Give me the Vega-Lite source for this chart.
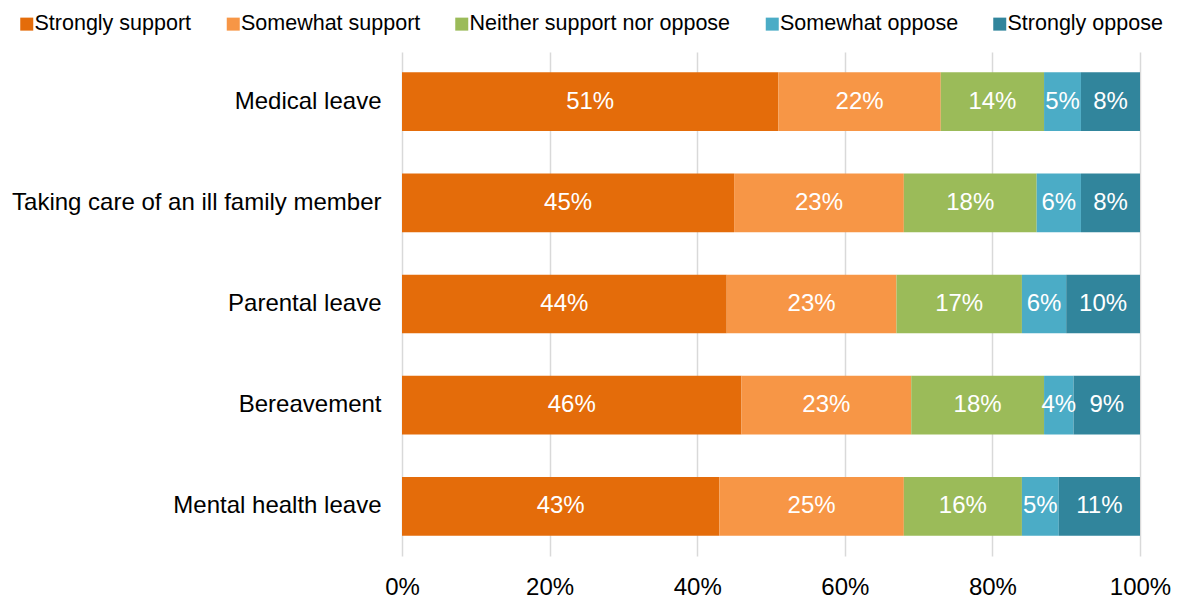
{
  "$schema": "https://vega.github.io/schema/vega-lite/v6.json",
  "width": 738,
  "height": 504,
  "autosize": {"type": "none"},
  "padding": {"left": 402, "top": 52, "right": 41, "bottom": 42},
  "background": "white",
  "config": {"view": {"stroke": null}, "font": "Liberation Sans"},
  "data": {
    "values": [
      {"item": "Medical leave", "resp": "Strongly support", "rank": 1, "pct": 0.51},
      {"item": "Medical leave", "resp": "Somewhat support", "rank": 2, "pct": 0.22},
      {"item": "Medical leave", "resp": "Neither support nor oppose", "rank": 3, "pct": 0.14},
      {"item": "Medical leave", "resp": "Somewhat oppose", "rank": 4, "pct": 0.05},
      {"item": "Medical leave", "resp": "Strongly oppose", "rank": 5, "pct": 0.08},
      {"item": "Taking care of an ill family member", "resp": "Strongly support", "rank": 1, "pct": 0.45},
      {"item": "Taking care of an ill family member", "resp": "Somewhat support", "rank": 2, "pct": 0.23},
      {"item": "Taking care of an ill family member", "resp": "Neither support nor oppose", "rank": 3, "pct": 0.18},
      {"item": "Taking care of an ill family member", "resp": "Somewhat oppose", "rank": 4, "pct": 0.06},
      {"item": "Taking care of an ill family member", "resp": "Strongly oppose", "rank": 5, "pct": 0.08},
      {"item": "Parental leave", "resp": "Strongly support", "rank": 1, "pct": 0.44},
      {"item": "Parental leave", "resp": "Somewhat support", "rank": 2, "pct": 0.23},
      {"item": "Parental leave", "resp": "Neither support nor oppose", "rank": 3, "pct": 0.17},
      {"item": "Parental leave", "resp": "Somewhat oppose", "rank": 4, "pct": 0.06},
      {"item": "Parental leave", "resp": "Strongly oppose", "rank": 5, "pct": 0.10},
      {"item": "Bereavement", "resp": "Strongly support", "rank": 1, "pct": 0.46},
      {"item": "Bereavement", "resp": "Somewhat support", "rank": 2, "pct": 0.23},
      {"item": "Bereavement", "resp": "Neither support nor oppose", "rank": 3, "pct": 0.18},
      {"item": "Bereavement", "resp": "Somewhat oppose", "rank": 4, "pct": 0.04},
      {"item": "Bereavement", "resp": "Strongly oppose", "rank": 5, "pct": 0.09},
      {"item": "Mental health leave", "resp": "Strongly support", "rank": 1, "pct": 0.43},
      {"item": "Mental health leave", "resp": "Somewhat support", "rank": 2, "pct": 0.25},
      {"item": "Mental health leave", "resp": "Neither support nor oppose", "rank": 3, "pct": 0.16},
      {"item": "Mental health leave", "resp": "Somewhat oppose", "rank": 4, "pct": 0.05},
      {"item": "Mental health leave", "resp": "Strongly oppose", "rank": 5, "pct": 0.11}
    ]
  },
  "transform": [
    {"stack": "pct", "groupby": ["item"], "sort": [{"field": "rank", "order": "ascending"}], "as": ["x0", "x1"]}
  ],
  "encoding": {
    "y": {
      "field": "item",
      "type": "nominal",
      "sort": ["Medical leave", "Taking care of an ill family member", "Parental leave", "Bereavement", "Mental health leave"],
      "scale": {"paddingInner": 0.42, "paddingOuter": 0.2},
      "axis": {"title": null, "domain": false, "ticks": false, "grid": false, "labelFontSize": 24, "labelPadding": 21, "labelColor": "black", "labelLimit": 0}
    }
  },
  "layer": [
    {
      "mark": {"type": "bar"},
      "encoding": {
        "x": {
          "field": "x0",
          "type": "quantitative",
          "scale": {"domain": [0, 1], "nice": false},
          "axis": {"title": null, "format": ".0%", "values": [0, 0.2, 0.4, 0.6, 0.8, 1], "domain": false, "ticks": false, "grid": true, "gridColor": "#d9d9d9", "gridWidth": 1.5, "labelFontSize": 24, "labelPadding": 19, "labelColor": "black", "labelFlush": false}
        },
        "x2": {"field": "x1"},
        "color": {
          "field": "resp",
          "type": "nominal",
          "sort": ["Strongly support", "Somewhat support", "Neither support nor oppose", "Somewhat oppose", "Strongly oppose"],
          "scale": {
            "domain": ["Strongly support", "Somewhat support", "Neither support nor oppose", "Somewhat oppose", "Strongly oppose"],
            "range": ["#E46C0A", "#F79646", "#9BBB59", "#4BACC6", "#31859C"]
          },
          "legend": {
            "title": null,
            "orient": "none",
            "legendX": -386,
            "legendY": -39,
            "direction": "horizontal",
            "symbolType": "square",
            "symbolSize": 169,
            "symbolStrokeWidth": 0,
            "labelFontSize": 21.5,
            "labelColor": "black",
            "labelLimit": 0,
            "labelOffset": -3,
            "columnPadding": 30.5
          }
        }
      }
    },
    {
      "transform": [
        {"fold": ["x0", "x1"], "as": ["edge", "xv"]},
        {"aggregate": [{"op": "mean", "field": "xv", "as": "mid"}], "groupby": ["item", "resp", "pct"]}
      ],
      "mark": {"type": "text", "color": "white", "fontSize": 24, "align": "center", "baseline": "middle"},
      "encoding": {
        "x": {"field": "mid", "type": "quantitative"},
        "text": {"field": "pct", "type": "quantitative", "format": ".0%"}
      }
    }
  ]
}
